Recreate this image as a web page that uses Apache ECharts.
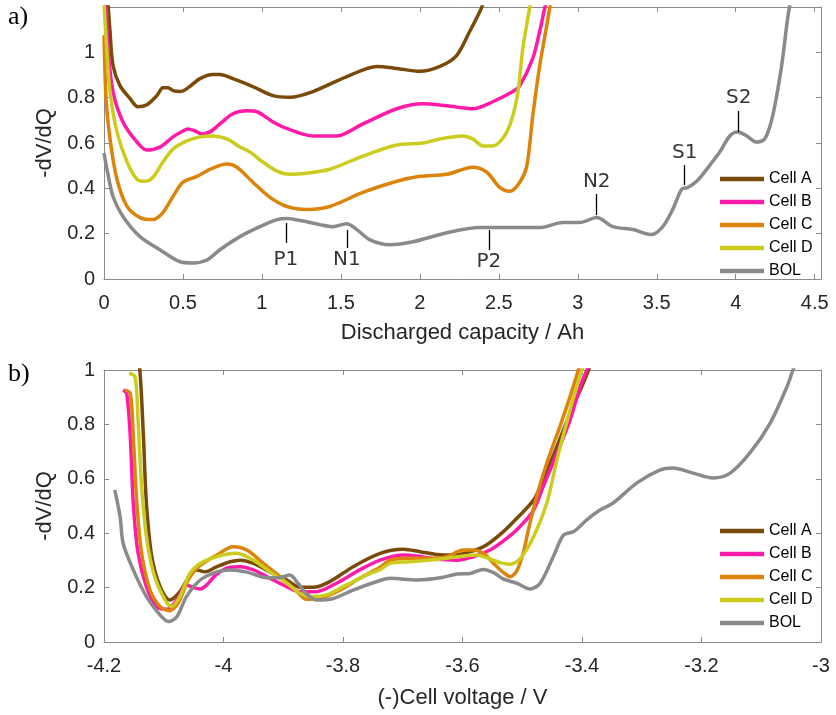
<!DOCTYPE html>
<html>
<head>
<meta charset="utf-8">
<script src="https://cdn.jsdelivr.net/npm/echarts@6/dist/echarts.min.js"></script>
<style>html,body{margin:0;padding:0;background:#fff;}#c{width:836px;height:715px;}</style>
</head>
<body>
<div id="c"></div>
<script>
// ---------- names ----------
const seriesNames = ['Cell A', 'Cell B', 'Cell C', 'Cell D', 'BOL'];
const seriesColors = ['#7a4a0a', '#ff1aa8', '#dc840a', '#cccc1e', '#8a8a8a'];

// ---------- (a) dV/dQ vs discharged capacity [Ah, -dV/dQ] ----------
const capCellA = [[0.022,1.25],[0.038,1.093],[0.057,0.942],[0.101,0.853],[0.165,0.796],[0.215,0.76],[0.272,0.769],[0.335,0.809],[0.373,0.844],[0.405,0.844],[0.437,0.831],[0.481,0.827],[0.525,0.84],[0.608,0.884],[0.69,0.902],[0.734,0.902],[0.816,0.884],[0.943,0.849],[1.07,0.809],[1.177,0.802],[1.323,0.827],[1.538,0.893],[1.728,0.938],[1.854,0.929],[2.0,0.916],[2.127,0.938],[2.234,0.987],[2.316,1.093],[2.38,1.18],[2.42,1.25]];
const capCellB = [[0.008,1.25],[0.013,1.196],[0.025,1.018],[0.057,0.827],[0.12,0.693],[0.209,0.604],[0.272,0.569],[0.354,0.582],[0.437,0.627],[0.5,0.653],[0.532,0.662],[0.576,0.653],[0.62,0.64],[0.671,0.649],[0.734,0.684],[0.816,0.729],[0.905,0.742],[0.968,0.738],[1.07,0.693],[1.165,0.662],[1.323,0.631],[1.475,0.631],[1.639,0.684],[1.854,0.751],[2.019,0.773],[2.171,0.764],[2.335,0.751],[2.462,0.782],[2.589,0.827],[2.633,0.853],[2.715,0.973],[2.759,1.093],[2.791,1.196],[2.81,1.25]];
const capCellC = [[0.0,1.076],[0.013,0.796],[0.038,0.618],[0.082,0.44],[0.146,0.32],[0.228,0.271],[0.31,0.262],[0.373,0.293],[0.437,0.364],[0.5,0.427],[0.589,0.453],[0.671,0.484],[0.778,0.507],[0.842,0.493],[0.943,0.427],[1.051,0.36],[1.158,0.32],[1.285,0.307],[1.43,0.32],[1.639,0.382],[1.854,0.431],[2.0,0.453],[2.171,0.462],[2.335,0.493],[2.424,0.471],[2.506,0.404],[2.57,0.387],[2.633,0.427],[2.677,0.498],[2.715,0.72],[2.759,0.942],[2.804,1.12],[2.835,1.25]];
const capCellD = [[0.0,1.22],[0.013,1.062],[0.038,0.827],[0.082,0.649],[0.146,0.516],[0.209,0.44],[0.259,0.431],[0.31,0.449],[0.373,0.516],[0.437,0.573],[0.525,0.609],[0.608,0.627],[0.69,0.631],[0.778,0.618],[0.861,0.582],[0.924,0.56],[1.006,0.516],[1.095,0.476],[1.177,0.462],[1.285,0.467],[1.43,0.484],[1.639,0.542],[1.854,0.591],[2.019,0.6],[2.127,0.618],[2.272,0.631],[2.335,0.618],[2.399,0.587],[2.462,0.587],[2.551,0.649],[2.614,0.796],[2.652,1.018],[2.684,1.151],[2.709,1.25]];
const capBOL = [[0.0,0.556],[0.019,0.484],[0.057,0.364],[0.12,0.276],[0.228,0.187],[0.354,0.129],[0.481,0.076],[0.563,0.071],[0.652,0.084],[0.734,0.129],[0.861,0.187],[0.987,0.231],[1.095,0.262],[1.158,0.267],[1.241,0.258],[1.367,0.24],[1.449,0.231],[1.538,0.244],[1.601,0.218],[1.684,0.173],[1.81,0.151],[1.956,0.164],[2.171,0.204],[2.38,0.227],[2.589,0.227],[2.759,0.227],[2.905,0.249],[3.013,0.249],[3.12,0.271],[3.222,0.231],[3.348,0.218],[3.468,0.196],[3.538,0.231],[3.601,0.307],[3.658,0.396],[3.696,0.404],[3.753,0.431],[3.816,0.484],[3.899,0.56],[3.962,0.631],[4.013,0.649],[4.07,0.631],[4.133,0.604],[4.184,0.618],[4.234,0.72],[4.291,0.942],[4.329,1.151],[4.354,1.25]];

// ---------- (b) dV/dQ vs (-)cell voltage [V, -dV/dQ] ----------
const voltCellA = [[-4.145,1.05],[-4.14,1.0],[-4.134,0.755],[-4.129,0.51],[-4.12,0.314],[-4.106,0.203],[-4.09,0.154],[-4.073,0.185],[-4.056,0.246],[-4.045,0.265],[-4.031,0.258],[-4.011,0.277],[-3.989,0.295],[-3.972,0.301],[-3.95,0.289],[-3.922,0.258],[-3.894,0.228],[-3.872,0.201],[-3.85,0.201],[-3.822,0.222],[-3.783,0.277],[-3.738,0.326],[-3.699,0.341],[-3.671,0.332],[-3.643,0.322],[-3.615,0.32],[-3.587,0.332],[-3.56,0.357],[-3.532,0.405],[-3.509,0.455],[-3.481,0.522],[-3.465,0.596],[-3.442,0.718],[-3.42,0.841],[-3.403,0.926],[-3.389,1.0],[-3.383,1.04]];
const voltCellB = [[-4.168,0.926],[-4.162,0.914],[-4.156,0.755],[-4.151,0.51],[-4.143,0.327],[-4.129,0.203],[-4.112,0.13],[-4.095,0.12],[-4.078,0.154],[-4.062,0.21],[-4.05,0.2],[-4.039,0.195],[-4.028,0.21],[-4.011,0.25],[-3.989,0.275],[-3.972,0.277],[-3.95,0.265],[-3.922,0.234],[-3.894,0.203],[-3.872,0.185],[-3.845,0.185],[-3.811,0.216],[-3.772,0.265],[-3.738,0.301],[-3.699,0.32],[-3.671,0.314],[-3.643,0.304],[-3.609,0.301],[-3.581,0.314],[-3.554,0.338],[-3.526,0.381],[-3.504,0.424],[-3.481,0.485],[-3.465,0.571],[-3.442,0.694],[-3.42,0.816],[-3.403,0.939],[-3.392,1.0],[-3.386,1.04]];
const voltCellC = [[-4.165,0.926],[-4.156,0.914],[-4.151,0.755],[-4.145,0.51],[-4.137,0.326],[-4.123,0.191],[-4.106,0.13],[-4.091,0.115],[-4.076,0.142],[-4.059,0.228],[-4.042,0.277],[-4.011,0.32],[-3.984,0.35],[-3.961,0.338],[-3.933,0.289],[-3.905,0.24],[-3.877,0.185],[-3.861,0.157],[-3.839,0.16],[-3.805,0.191],[-3.772,0.234],[-3.738,0.275],[-3.721,0.301],[-3.688,0.308],[-3.654,0.308],[-3.626,0.314],[-3.599,0.338],[-3.582,0.338],[-3.565,0.326],[-3.548,0.289],[-3.532,0.256],[-3.52,0.24],[-3.509,0.262],[-3.498,0.33],[-3.49,0.41],[-3.476,0.534],[-3.459,0.657],[-3.437,0.792],[-3.42,0.902],[-3.406,1.0],[-3.4,1.04]];
const voltCellD = [[-4.158,0.988],[-4.148,0.975],[-4.143,0.816],[-4.137,0.571],[-4.129,0.387],[-4.117,0.253],[-4.101,0.167],[-4.087,0.13],[-4.073,0.167],[-4.056,0.253],[-4.039,0.289],[-4.011,0.314],[-3.978,0.326],[-3.95,0.301],[-3.922,0.258],[-3.894,0.216],[-3.872,0.179],[-3.855,0.167],[-3.828,0.173],[-3.794,0.21],[-3.761,0.246],[-3.738,0.266],[-3.721,0.289],[-3.688,0.295],[-3.654,0.301],[-3.626,0.308],[-3.599,0.316],[-3.576,0.32],[-3.56,0.31],[-3.537,0.292],[-3.52,0.286],[-3.504,0.305],[-3.481,0.387],[-3.459,0.51],[-3.442,0.669],[-3.426,0.804],[-3.409,0.939],[-3.4,1.0],[-3.395,1.04]];
const voltBOL = [[-4.182,0.559],[-4.173,0.46],[-4.168,0.363],[-4.151,0.265],[-4.129,0.167],[-4.106,0.099],[-4.092,0.075],[-4.078,0.093],[-4.062,0.167],[-4.039,0.228],[-4.011,0.258],[-3.989,0.265],[-3.961,0.257],[-3.927,0.236],[-3.905,0.237],[-3.889,0.246],[-3.875,0.215],[-3.86,0.175],[-3.844,0.154],[-3.816,0.16],[-3.783,0.191],[-3.738,0.226],[-3.721,0.234],[-3.676,0.228],[-3.637,0.236],[-3.609,0.25],[-3.587,0.252],[-3.565,0.267],[-3.548,0.255],[-3.532,0.232],[-3.509,0.216],[-3.487,0.195],[-3.47,0.216],[-3.448,0.314],[-3.431,0.393],[-3.414,0.406],[-3.392,0.449],[-3.37,0.485],[-3.348,0.511],[-3.308,0.585],[-3.27,0.632],[-3.248,0.64],[-3.214,0.621],[-3.181,0.603],[-3.152,0.621],[-3.119,0.695],[-3.085,0.805],[-3.057,0.938],[-3.047,1.0],[-3.04,1.04]];

// ---------- peak annotations in (a) ----------
const peakNames = ['P1', 'N1', 'P2', 'N2', 'S1', 'S2'];
const peakX = [1.152, 1.538, 2.437, 3.12, 3.677, 4.019];
const peakLineLow = [0.159, 0.137, 0.128, 0.282, 0.415, 0.649];
const peakLineHigh = [0.247, 0.216, 0.216, 0.375, 0.503, 0.741];
const peakLabelY = [0.084, 0.084, 0.075, 0.428, 0.556, 0.799];

// ---------- ticks ----------
const capTickMax = 4.5, capTickStep = 0.5, capAxisMax = 4.54;
const voltAxisMin = -4.2, voltAxisMax = -3, voltTickStep = 0.2;
const dvdqMaxA = 1.2, dvdqMaxB = 1, dvdqStep = 0.2;

const FONT = 'Liberation Sans, Arial, sans-serif';
const AX = '#8a8a8a', TXT = '#262626';

function baseAxis(extra) {
  return Object.assign({
    type: 'value',
    axisLine: { show: true, onZero: false, lineStyle: { color: AX, width: 1 } },
    axisTick: { show: true, inside: true, length: 5, lineStyle: { color: AX } },
    splitLine: { show: false },
    axisLabel: { show: false }
  }, extra);
}
function labelStyle(fmt, margin) {
  return { show: true, fontSize: 20, color: TXT, fontFamily: FONT, margin: margin, formatter: fmt };
}
const capFmt = v => (Math.abs(v / capTickStep - Math.round(v / capTickStep)) < 1e-6 && v <= capTickMax + 1e-9) ? String(+v.toFixed(2)) : '';
const dvdqFmt = v => (v <= 1.0001) ? String(+v.toFixed(2)) : '';
const voltFmt = v => String(+v.toFixed(2));

const nameStyle = { fontSize: 22, color: TXT, fontFamily: FONT };

function lineSeries(name, data, color, xi, yi) {
  return {
    name: name, type: 'line', xAxisIndex: xi, yAxisIndex: yi, data: data,
    smooth: 0.3, symbol: 'none', clip: true,
    lineStyle: { width: 3.5, color: color }, itemStyle: { color: color },
    emphasis: { disabled: true }
  };
}

const capSets = [capCellA, capCellB, capCellC, capCellD, capBOL];
const voltSets = [voltCellA, voltCellB, voltCellC, voltCellD, voltBOL];
const series = [];
capSets.forEach((d, i) => series.push(lineSeries(seriesNames[i], d, seriesColors[i], 0, 0)));
voltSets.forEach((d, i) => series.push(lineSeries(seriesNames[i], d, seriesColors[i], 2, 2)));

series.push({
  name: 'peaks', type: 'scatter', xAxisIndex: 0, yAxisIndex: 0,
  symbolSize: 1, itemStyle: { color: 'rgba(0,0,0,0)' }, silent: true, z: 10,
  data: peakNames.map((n, i) => ({ name: n, value: [peakX[i], peakLabelY[i]] })),
  label: { show: true, position: 'inside', formatter: p => p.name, color: '#000', fontSize: 20, fontFamily: 'DejaVu Sans, sans-serif' },
  markLine: {
    silent: true, symbol: ['none', 'none'], animation: false,
    label: { show: false },
    lineStyle: { color: '#000', width: 1.3, type: 'solid' },
    data: peakNames.map((n, i) => [{ coord: [peakX[i], peakLineLow[i]] }, { coord: [peakX[i], peakLineHigh[i]] }])
  }
});

const legendCommon = {
  orient: 'vertical', left: 720, padding: 0, itemWidth: 44, itemHeight: 14, itemGap: 7,
  icon: 'path://M0,0H44V4.5H0Z', symbolKeepAspect: true,
  textStyle: { fontSize: 16, color: '#000', fontFamily: FONT, lineHeight: 15 }, data: seriesNames,
  selectedMode: false
};

const option = {
  animation: false,
  backgroundColor: '#fff',
  grid: [
    { left: 104, top: 7, width: 717, height: 272 },
    { left: 104, top: 370, width: 717, height: 272 }
  ],
  xAxis: [
    baseAxis({ gridIndex: 0, position: 'bottom', min: 0, max: capAxisMax, interval: capTickStep,
      axisLabel: labelStyle(capFmt, 14),
      name: 'Discharged capacity / Ah', nameLocation: 'middle', nameGap: 43, nameTextStyle: nameStyle }),
    baseAxis({ gridIndex: 0, position: 'top', min: 0, max: capAxisMax, interval: capTickStep }),
    baseAxis({ gridIndex: 1, position: 'bottom', min: voltAxisMin, max: voltAxisMax, interval: voltTickStep,
      axisLabel: labelStyle(voltFmt, 14),
      name: '(-)Cell voltage / V', nameLocation: 'middle', nameGap: 45, nameTextStyle: nameStyle }),
    baseAxis({ gridIndex: 1, position: 'top', min: voltAxisMin, max: voltAxisMax, interval: voltTickStep })
  ],
  yAxis: [
    baseAxis({ gridIndex: 0, position: 'left', min: 0, max: dvdqMaxA, interval: dvdqStep,
      axisLabel: labelStyle(dvdqFmt, 9),
      name: '-dV/dQ', nameLocation: 'middle', nameGap: 47, nameTextStyle: nameStyle }),
    baseAxis({ gridIndex: 0, position: 'right', min: 0, max: dvdqMaxA, interval: dvdqStep }),
    baseAxis({ gridIndex: 1, position: 'left', min: 0, max: dvdqMaxB, interval: dvdqStep,
      axisLabel: labelStyle(dvdqFmt, 9),
      name: '-dV/dQ', nameLocation: 'middle', nameGap: 47, nameTextStyle: nameStyle }),
    baseAxis({ gridIndex: 1, position: 'right', min: 0, max: dvdqMaxB, interval: dvdqStep })
  ],
  legend: [
    Object.assign({}, legendCommon, { top: 171 }),
    Object.assign({}, legendCommon, { top: 523 })
  ],
  graphic: [
    { type: 'text', left: 8, top: 4, style: { text: 'a)', fontSize: 26, fontFamily: 'Liberation Serif, serif', fill: '#000' } },
    { type: 'text', left: 8, top: 361, style: { text: 'b)', fontSize: 26, fontFamily: 'Liberation Serif, serif', fill: '#000' } }
  ],
  series: series
};

const chart = echarts.init(document.getElementById('c'), null, { renderer: 'canvas' });
chart.setOption(option);
</script>
</body>
</html>
